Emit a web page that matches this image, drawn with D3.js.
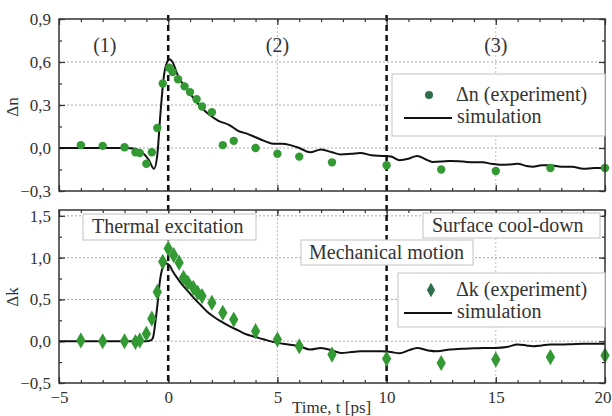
<!DOCTYPE html>
<html>
<head>
<meta charset="utf-8">
<script src="https://cdn.jsdelivr.net/npm/d3@7"></script>
<style>
body { margin: 0; background: #fff; }
svg text { font-family: "Liberation Serif", "Times New Roman", "DejaVu Serif", serif; fill: #333; }
</style>
</head>
<body>
<svg width="612" height="416"></svg>
<script>
// experiment, delta n
var nT = [-4, -3, -2, -1.5, -1.3, -1.0, -0.75, -0.5, -0.25, 0.05, 0.2, 0.45, 0.75, 1.0, 1.3, 1.55, 2.0, 2.5, 3.0, 4.0, 5.0, 6.0, 7.5, 10, 12.5, 15, 17.5, 20];
var nExp = [0.02, 0.015, 0.005, -0.03, -0.035, -0.11, -0.03, 0.14, 0.45, 0.56, 0.53, 0.48, 0.43, 0.39, 0.34, 0.29, 0.25, 0.02, 0.05, 0.0, -0.04, -0.06, -0.10, -0.12, -0.15, -0.16, -0.14, -0.14];

// simulation, delta n
var nSimT = [-5, -2, -1.5, -1.2, -0.9, -0.65, -0.5, -0.35, -0.2, -0.05, 0.05, 0.2, 0.4, 0.7, 1.0, 1.3, 1.6, 1.9, 2.3, 2.8, 3.2, 3.6, 4.0, 4.4, 4.8, 5.2, 5.6, 6.0, 6.5, 7.0, 7.5, 7.9, 8.4, 8.8, 9.3, 9.8, 10.2, 10.6, 11.0, 11.4, 11.8, 12.1, 12.5, 12.9, 13.5, 14.0, 14.4, 14.8, 15.2, 15.6, 16.0, 16.4, 16.7, 17.1, 17.5, 18.0, 18.5, 19.0, 19.5, 20];
var nSim = [0, 0, -0.005, -0.03, -0.08, -0.145, -0.05, 0.25, 0.5, 0.6, 0.62, 0.6, 0.52, 0.44, 0.38, 0.32, 0.27, 0.23, 0.19, 0.16, 0.12, 0.10, 0.075, 0.05, 0.03, 0.03, 0.02, 0.0, -0.03, -0.01, -0.03, -0.045, -0.04, -0.035, -0.05, -0.055, -0.06, -0.085, -0.075, -0.055, -0.08, -0.097, -0.095, -0.09, -0.095, -0.1, -0.1, -0.11, -0.117, -0.115, -0.11, -0.125, -0.13, -0.12, -0.12, -0.13, -0.13, -0.145, -0.14, -0.14];

// experiment, delta k
var kT = [-4, -3, -2, -1.5, -1.3, -1.0, -0.75, -0.5, -0.25, 0, 0.25, 0.5, 0.7, 0.9, 1.15, 1.35, 1.55, 2.0, 2.5, 3.0, 4.0, 5.0, 6.0, 7.5, 10, 12.5, 15, 17.5, 20];
var kExp = [0.01, 0, 0, -0.01, 0.01, 0.09, 0.27, 0.59, 0.95, 1.11, 1.03, 0.94, 0.76, 0.70, 0.64, 0.58, 0.54, 0.46, 0.34, 0.26, 0.12, 0.02, -0.06, -0.16, -0.21, -0.26, -0.22, -0.19, -0.17];

// simulation, delta k
var kSimT = [-5, -1, -0.8, -0.7, -0.6, -0.5, -0.38, -0.25, -0.1, 0.05, 0.2, 0.4, 0.6, 0.9, 1.2, 1.5, 1.8, 2.1, 2.4, 2.8, 3.2, 3.6, 4.0, 4.4, 5.0, 5.5, 6.0, 6.5, 7.0, 7.5, 7.9, 8.4, 8.8, 9.3, 9.8, 10.2, 10.6, 11.0, 11.4, 11.9, 12.3, 12.9, 13.5, 14.0, 14.4, 15.0, 15.5, 16.0, 16.4, 16.7, 17.1, 17.5, 18.0, 18.5, 19.0, 20];
var kSim = [0, 0, 0.01, 0.04, 0.2, 0.42, 0.72, 0.88, 0.93, 0.91, 0.84, 0.76, 0.69, 0.6, 0.51, 0.43, 0.35, 0.29, 0.24, 0.18, 0.13, 0.08, 0.05, 0.02, -0.02, -0.04, -0.06, -0.1, -0.08, -0.11, -0.14, -0.13, -0.12, -0.12, -0.12, -0.13, -0.145, -0.11, -0.08, -0.11, -0.12, -0.1, -0.09, -0.085, -0.08, -0.08, -0.07, -0.04, -0.05, -0.06, -0.05, -0.04, -0.04, -0.035, -0.03, -0.03];

var xTicks = [-5, 0, 5, 10, 15, 20];
var nTicks = [-0.3, 0.0, 0.3, 0.6, 0.9];
var kTicks = [-0.5, 0.0, 0.5, 1.0, 1.5];
var regionLabels = ["(1)", "(2)", "(3)"];
var regionPos = [-2.9, 5, 15];
var phaseLabels = ["Thermal excitation", "Mechanical motion", "Surface cool-down"];

var green = "#339933";
var svg = d3.select("svg");

var x = d3.scaleLinear().domain([-5, 20]).range([59, 605]);
var yTop = d3.scaleLinear().domain([-0.3, 0.9]).range([191, 19]);
var yBot = d3.scaleLinear().domain([-0.5, 1.57]).range([383, 210]);

var comma = function(d) { return d3.format(".1f")(d).replace(".", ","); };

var zip = function(a, b) { return a.map(function(v, i) { return {t: v, v: b[i]}; }); };

var drawPanel = function(y, yt, minorStep)
{
    var top = y.range()[1], bot = y.range()[0];
    var left = x.range()[0], right = x.range()[1];
    var g = svg.append("g");

    // grid
    g.selectAll(".hg").data(yt.filter(function(d) { return y(d) > top + 2 && y(d) < bot - 2; }))
        .enter().append("line")
        .attr("x1", left).attr("x2", right)
        .attr("y1", function(d) { return y(d); }).attr("y2", function(d) { return y(d); })
        .attr("stroke", "#aaa").attr("stroke-width", 1).attr("stroke-dasharray", "2,2");
    g.selectAll(".vg").data([5, 15])
        .enter().append("line")
        .attr("x1", function(d) { return x(d); }).attr("x2", function(d) { return x(d); })
        .attr("y1", top).attr("y2", bot)
        .attr("stroke", "#bbb").attr("stroke-width", 1).attr("stroke-dasharray", "2,2");

    // inward ticks on all sides
    var xMinor = d3.range(-5, 20.01, 1);
    var yMinor = d3.range(y.domain()[0], y.domain()[1] + 0.001, minorStep);
    var tickAxes = [
        [d3.axisTop(x).tickValues(xMinor).tickSize(3), "translate(0," + bot + ")"],
        [d3.axisTop(x).tickValues(xTicks).tickSize(6), "translate(0," + bot + ")"],
        [d3.axisBottom(x).tickValues(xMinor).tickSize(3), "translate(0," + top + ")"],
        [d3.axisBottom(x).tickValues(xTicks).tickSize(6), "translate(0," + top + ")"],
        [d3.axisRight(y).tickValues(yMinor).tickSize(3), "translate(" + left + ",0)"],
        [d3.axisRight(y).tickValues(yt).tickSize(6), "translate(" + left + ",0)"],
        [d3.axisLeft(y).tickValues(yMinor).tickSize(3), "translate(" + right + ",0)"],
        [d3.axisLeft(y).tickValues(yt).tickSize(6), "translate(" + right + ",0)"]
    ];
    tickAxes.forEach(function(a)
    {
        var ax = g.append("g").attr("transform", a[1]).call(a[0].tickFormat(""));
        ax.select(".domain").remove();
        ax.selectAll("line").attr("stroke", "#333").attr("stroke-width", 1.2);
    });

    // y labels
    var yl = g.append("g").attr("transform", "translate(" + left + ",0)")
        .call(d3.axisLeft(y).tickValues(yt).tickSize(0).tickPadding(8).tickFormat(comma));
    yl.select(".domain").remove();
    yl.selectAll("text").style("font-size", "17px").attr("fill", "#333");

    return g;
};

var gTop = drawPanel(yTop, nTicks, 0.15);
var gBot = drawPanel(yBot, kTicks, 0.25);

// x labels on bottom panel
var xl = gBot.append("g").attr("transform", "translate(0,383)")
    .call(d3.axisBottom(x).tickValues(xTicks).tickSize(0).tickPadding(8).tickFormat(d3.format("d")));
xl.select(".domain").remove();
xl.selectAll("text").style("font-size", "17px").attr("fill", "#333");
xl.selectAll("text").filter(function(d) { return d == 20; })
    .attr("text-anchor", "end").attr("dx", 6);

// dashed region separators
svg.selectAll(".sep").data([0, 10]).enter().append("line")
    .attr("x1", function(d) { return x(d); }).attr("x2", function(d) { return x(d); })
    .attr("y1", 15).attr("y2", 384)
    .attr("stroke", "#111").attr("stroke-width", 2.5).attr("stroke-dasharray", "6,4");

// simulations
var line = function(y) {
    return d3.line().x(function(d) { return x(d.t); }).y(function(d) { return y(d.v); }).curve(d3.curveMonotoneX);
};
svg.append("path").datum(zip(nSimT, nSim)).attr("d", line(yTop))
    .attr("fill", "none").attr("stroke", "#111").attr("stroke-width", 2);
svg.append("path").datum(zip(kSimT, kSim)).attr("d", line(yBot))
    .attr("fill", "none").attr("stroke", "#111").attr("stroke-width", 2);

// experiment markers
svg.selectAll(".nexp").data(zip(nT, nExp)).enter().append("circle")
    .attr("cx", function(d) { return x(d.t); }).attr("cy", function(d) { return yTop(d.v); })
    .attr("r", 4.2).attr("fill", green);
svg.selectAll(".kexp").data(zip(kT, kExp)).enter().append("path")
    .attr("d", d3.symbol().type(d3.symbolDiamond).size(75))
    .attr("transform", function(d) { return "translate(" + x(d.t) + "," + yBot(d.v) + ")"; })
    .attr("fill", green);

// frames
[yTop, yBot].forEach(function(y)
{
    svg.append("rect").attr("x", x.range()[0]).attr("y", y.range()[1])
        .attr("width", x.range()[1] - x.range()[0]).attr("height", y.range()[0] - y.range()[1])
        .attr("fill", "none").attr("stroke", "#333").attr("stroke-width", 1.5);
});

// region labels
svg.selectAll(".reg").data(regionLabels).enter().append("text")
    .attr("x", function(d, i) { return x(regionPos[i]); }).attr("y", 52)
    .attr("text-anchor", "middle").style("font-size", "20px").text(function(d) { return d; });

// phase label boxes
var boxes = [
    {x: 83, y: 214, w: 173, h: 26, tx: 92, ty: 233},
    {x: 301, y: 240, w: 172, h: 25, tx: 309, ty: 259},
    {x: 423, y: 213, w: 177, h: 25, tx: 432, ty: 232}
];
phaseLabels.forEach(function(t, i)
{
    var b = boxes[i];
    svg.append("rect").attr("x", b.x).attr("y", b.y).attr("width", b.w).attr("height", b.h)
        .attr("fill", "#fff").attr("stroke", "#ccc").attr("stroke-width", 1.2);
    svg.append("text").attr("x", b.tx).attr("y", b.ty).style("font-size", "20px").text(t);
});

// legends
var legend = function(bx, by, bw, bh, sym, label, my, ly)
{
    svg.append("rect").attr("x", bx).attr("y", by).attr("width", bw).attr("height", bh)
        .attr("fill", "#fff").attr("stroke", "#ccc").attr("stroke-width", 1.2);
    if (sym == "circle")
        svg.append("circle").attr("cx", 429).attr("cy", my).attr("r", 4).attr("fill", "#2e6e4a");
    else
        svg.append("path").attr("d", d3.symbol().type(d3.symbolDiamond).size(60))
            .attr("transform", "translate(431," + my + ")").attr("fill", "#2e6e4a");
    svg.append("text").attr("x", 456).attr("y", my + 6).style("font-size", "20px").text(label);
    svg.append("line").attr("x1", 404).attr("x2", 452).attr("y1", ly).attr("y2", ly)
        .attr("stroke", "#111").attr("stroke-width", 2);
    svg.append("text").attr("x", 457).attr("y", ly + 5).style("font-size", "20px").text("simulation");
};
legend(392, 74, 213, 62, "circle", "Δn (experiment)", 95, 118);
legend(398, 273, 207, 54, "diamond", "Δk (experiment)", 290, 313);

// axis titles
svg.append("text").attr("transform", "translate(18,107) rotate(-90)")
    .attr("text-anchor", "middle").style("font-size", "17px").text("Δn");
svg.append("text").attr("transform", "translate(18,297) rotate(-90)")
    .attr("text-anchor", "middle").style("font-size", "17px").text("Δk");
svg.append("text").attr("x", 292).attr("y", 413).style("font-size", "17px").text("Time, t [ps]");
</script>
</body>
</html>
